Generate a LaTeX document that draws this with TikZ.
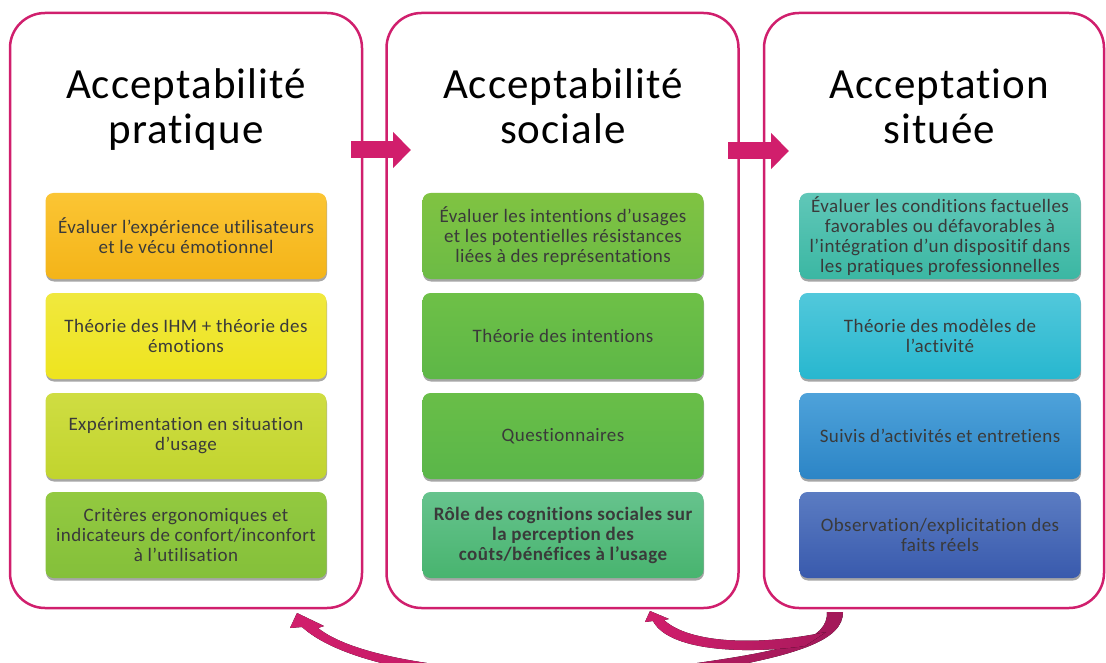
\documentclass[tikz,border=0pt]{standalone}
\usepackage{fontspec}
\setmainfont[Ligatures=NoCommon]{Carlito}
\newfontfamily\titlefont[LetterSpace=2.5,Ligatures=NoCommon]{Carlito}
\newfontfamily\cardfont[LetterSpace=2.3,Ligatures=NoCommon]{Carlito}
\usetikzlibrary{arrows.meta,shadows}
\definecolor{pcol}{HTML}{D01F6D}
\definecolor{acol}{HTML}{D11E6C}
\definecolor{adark}{HTML}{A3195A}
\definecolor{txtcol}{HTML}{3A3A3A}
\definecolor{c11t}{HTML}{FBC534}\definecolor{c11b}{HTML}{F4B418}
\definecolor{c12t}{HTML}{F0E83E}\definecolor{c12b}{HTML}{EEE41E}
\definecolor{c13t}{HTML}{CFDD42}\definecolor{c13b}{HTML}{C1D42E}
\definecolor{c14t}{HTML}{93C940}\definecolor{c14b}{HTML}{84C03A}
\definecolor{c21t}{HTML}{80C342}\definecolor{c21b}{HTML}{6CBB45}
\definecolor{c22t}{HTML}{6EC047}\definecolor{c22b}{HTML}{5DB747}
\definecolor{c23t}{HTML}{69BE48}\definecolor{c23b}{HTML}{5AB649}
\definecolor{c24t}{HTML}{66C38D}\definecolor{c24b}{HTML}{48B46F}
\definecolor{c31t}{HTML}{60C7B8}\definecolor{c31b}{HTML}{3BB7A3}
\definecolor{c32t}{HTML}{52C8DB}\definecolor{c32b}{HTML}{27B7CF}
\definecolor{c33t}{HTML}{4EA2DA}\definecolor{c33b}{HTML}{2C85C6}
\definecolor{c34t}{HTML}{5B7CC2}\definecolor{c34b}{HTML}{395AAD}
\tikzset{
  panel/.style={draw=pcol, line width=2.5pt, rounded corners=35pt,
    minimum width=352pt, minimum height=595pt, inner sep=0pt},
  title/.style={align=center, text=black, font=\titlefont\fontsize{43}{45}\selectfont, inner sep=0pt},
  card/.style={rounded corners=8pt, minimum width=281pt, minimum height=86pt,
    align=center, text=txtcol, font=\cardfont\fontsize{19}{20}\selectfont, inner sep=2pt,
    drop shadow={shadow xshift=0.5pt, shadow yshift=-2.5pt, opacity=0.35, fill=black}},
  fat/.style={draw=acol, line width=17pt, line cap=butt,
    -{Triangle[length=18pt, width=35pt]}},
}
\begin{document}
\begin{tikzpicture}[x=1pt,y=-1pt]
\useasboundingbox (0,0) rectangle (1106,663);
% panels
\node[panel] (p1) at (186,310.5) {};
\node[panel] (p2) at (562.5,310.5) {};
\node[panel, minimum width=340pt] (p3) at (934,310.5) {};
% titles
\node[title] (t1) at (186,107) {\vphantom{É}Acceptabilité\\pratique\vphantom{q}};
\node[title] (t2) at (563,107) {\vphantom{É}Acceptabilité\\sociale\vphantom{q}};
\node[title] (t3) at (939.5,107) {\vphantom{É}Acceptation\\située\vphantom{q}};
% cards panel 1
\node[card, top color=c11t, bottom color=c11b] (b11) at (186,236) {Évaluer l’expérience utilisateurs\\et le vécu émotionnel};
\node[card, top color=c12t, bottom color=c12b] (b12) at (186,336) {Théorie des IHM + théorie des\\émotions};
\node[card, top color=c13t, bottom color=c13b] (b13) at (186,436) {Expérimentation en situation\\d’usage};
\node[card, top color=c14t, bottom color=c14b] (b14) at (186,535) {Critères ergonomiques et\\indicateurs de confort/inconfort\\à l’utilisation};
% cards panel 2
\node[card, top color=c21t, bottom color=c21b] (b21) at (563,236) {Évaluer les intentions d’usages\\et les potentielles résistances\\liées à des représentations};
\node[card, top color=c22t, bottom color=c22b] (b22) at (563,336) {Théorie des intentions};
\node[card, top color=c23t, bottom color=c23b] (b23) at (563,436) {Questionnaires};
\node[card, top color=c24t, bottom color=c24b, font=\cardfont\fontsize{19}{20}\selectfont\bfseries] (b24) at (563,535) {Rôle des cognitions sociales sur\\la perception des\\coûts/bénéfices à l’usage};
% cards panel 3
\node[card, top color=c31t, bottom color=c31b] (b31) at (940,236) {Évaluer les conditions factuelles\\favorables ou défavorables à\\l’intégration d’un dispositif dans\\les pratiques professionnelles};
\node[card, top color=c32t, bottom color=c32b] (b32) at (940,336) {Théorie des modèles de\\l’activité};
\node[card, top color=c33t, bottom color=c33b] (b33) at (940,436) {Suivis d’activités et entretiens};
\node[card, top color=c34t, bottom color=c34b] (b34) at (940,535) {Observation/explicitation des\\faits réels};
% horizontal arrows
\coordinate (a1s) at (351,150);
\coordinate (a1e) at (411,150);
\coordinate (a2s) at (728,151);
\coordinate (a2e) at (789,151);
\draw[fat] (a1s) -- (a1e);
\draw[fat] (a2s) -- (a2e);
% bottom curved arrows
\fill[left color=acol, right color=adark]
  (843,612) -- (827,612)
  .. controls (828,640) and (790,650) .. (690,664)
  .. controls (560,682) and (370,670) .. (318,628)
  -- (324,626) -- (297,613) -- (290,628) -- (302,627)
  .. controls (360,680) and (560,695) .. (700,672)
  .. controls (800,655) and (843,640) .. (843,612) -- cycle;
\fill[left color=acol, right color=adark!85!acol]
  (650,611) -- (669,619) -- (664,620)
  .. controls (690,644) and (760,646) .. (826,632)
  -- (805,646)
  .. controls (740,655) and (668,650) .. (653,621)
  -- (645,622) -- cycle;
\end{tikzpicture}
\end{document}
